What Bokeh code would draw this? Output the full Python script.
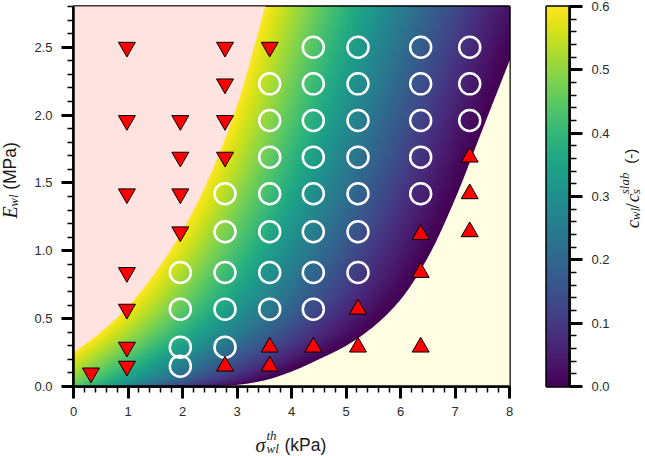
import numpy as np
from bokeh.plotting import figure
from bokeh.layouts import row, column
from bokeh.models import (LinearColorMapper, SingleIntervalTicker, FixedTicker,
                          Label, PrintfTickFormatter, Range1d)
from bokeh.palettes import Viridis256
from bokeh.embed import file_html
from bokeh.resources import INLINE

# ---------------- data ----------------
# upper boundary (edge of the pink region)
upper_sigma = [0.0, 0.5, 1.0, 1.5, 2.0, 2.5, 3.0, 3.52]
upper_E = [0.25, 0.40, 0.59, 0.84, 1.15, 1.55, 2.07, 2.80]
# lower boundary (edge of the cream region)
lower_sigma = [2.4, 3.0, 3.5, 4.0, 4.5, 5.0, 5.5, 6.0, 6.5, 7.0, 7.5, 8.0]
lower_E = [0.0, 0.012, 0.045, 0.11, 0.20, 0.30, 0.44, 0.64, 0.95, 1.38, 1.89, 2.40]

# open circles
circle_sigma = [1.96, 1.96, 1.96, 1.96,
                2.78, 2.78, 2.78, 2.78, 2.78,
                3.60, 3.60, 3.60, 3.60, 3.60, 3.60, 3.60,
                4.40, 4.40, 4.40, 4.40, 4.40, 4.40, 4.40, 4.40,
                5.22, 5.22, 5.22, 5.22, 5.22, 5.22, 5.22,
                6.37, 6.37, 6.37, 6.37, 6.37,
                7.27, 7.27, 7.27]
circle_E = [0.84, 0.57, 0.29, 0.15,
            1.42, 1.14, 0.84, 0.57, 0.29,
            2.23, 1.96, 1.69, 1.42, 1.14, 0.84, 0.57,
            2.50, 2.23, 1.96, 1.69, 1.42, 1.14, 0.84, 0.57,
            2.50, 2.23, 1.96, 1.69, 1.42, 1.14, 0.84,
            2.50, 2.23, 1.96, 1.69, 1.42,
            2.50, 2.23, 1.96]
# downward triangles
down_sigma = [0.32, 0.98, 0.98, 0.98, 0.98, 0.98, 0.98, 0.98,
              1.96, 1.96, 1.96, 1.96, 2.78, 2.78, 2.78, 2.78, 3.60]
down_E = [0.10, 2.50, 1.96, 1.42, 0.84, 0.57, 0.29, 0.15,
          1.96, 1.69, 1.42, 1.14, 2.50, 2.23, 1.96, 1.69, 2.50]
# upward triangles
up_sigma = [2.78, 3.60, 3.60, 4.40, 5.22, 5.22, 6.37, 6.37, 6.37, 7.27, 7.27, 7.27]
up_E = [0.15, 0.29, 0.15, 0.29, 0.57, 0.29, 1.12, 0.84, 0.29, 1.69, 1.42, 1.14]

x_range = (0, 8)
y_range = (0, 2.8)
c_range = (0.0, 0.6)
cbar_ticks = [0.0, 0.1, 0.2, 0.3, 0.4, 0.5, 0.6]
cbar_minor = [0.02, 0.04, 0.06, 0.08, 0.12, 0.14, 0.16, 0.18, 0.22, 0.24, 0.26, 0.28,
              0.32, 0.34, 0.36, 0.38, 0.42, 0.44, 0.46, 0.48, 0.52, 0.54, 0.56, 0.58]


def pchip(xk, yk, xq):
    xk = np.asarray(xk, float)
    yk = np.asarray(yk, float)
    xq = np.asarray(xq, float)
    h = np.diff(xk)
    d = np.diff(yk) / h
    m = np.zeros_like(yk)
    for i in range(1, len(xk) - 1):
        if d[i - 1] * d[i] > 0:
            w1 = 2 * h[i] + h[i - 1]
            w2 = h[i] + 2 * h[i - 1]
            m[i] = (w1 + w2) / (w1 / d[i - 1] + w2 / d[i])
    m[0] = d[0]
    m[-1] = d[-1]
    idx = np.clip(np.searchsorted(xk, xq) - 1, 0, len(h) - 1)
    t = (xq - xk[idx]) / h[idx]
    h00 = 2 * t**3 - 3 * t**2 + 1
    h10 = t**3 - 2 * t**2 + t
    h01 = -2 * t**3 + 3 * t**2
    h11 = t**3 - t**2
    return (h00 * yk[idx] + h10 * h[idx] * m[idx] +
            h01 * yk[idx + 1] + h11 * h[idx] * m[idx + 1])


us = np.linspace(upper_sigma[0], upper_sigma[-1], 500)
ue = pchip(upper_sigma, upper_E, us)
ls = np.linspace(lower_sigma[0], lower_sigma[-1], 500)
le = pchip(lower_sigma, lower_E, ls)

# colour field: relative position between the two boundaries at fixed E
nx, ny = 436, 380
gx = (np.arange(nx) + 0.5) * (x_range[1] - x_range[0]) / nx
gy = (np.arange(ny) + 0.5) * (y_range[1] - y_range[0]) / ny
X, Y = np.meshgrid(gx, gy)
s0 = (upper_E[1] - upper_E[0]) / (upper_sigma[1] - upper_sigma[0])
xu = np.where(Y < upper_E[0], (Y - upper_E[0]) / s0, np.interp(Y, ue, us))
s1 = (lower_E[-1] - lower_E[-2]) / (lower_sigma[-1] - lower_sigma[-2])
xl = np.where(Y > lower_E[-1], lower_sigma[-1] + (Y - lower_E[-1]) / s1,
              np.interp(Y, le, ls))
frac = np.clip((xl - X) / (xl - xu), 0.0, 1.0)
field = c_range[1] * frac ** 1.2

mapper = LinearColorMapper(palette=Viridis256, low=c_range[0], high=c_range[1])

TOP_H = 425   # height of the upper row (plot + tick labels)


def styled_axis(ax):
    ax.axis_line_width = 2.5
    ax.axis_line_color = "black"
    ax.major_tick_in = 0
    ax.major_tick_out = 12
    ax.minor_tick_in = 0
    ax.minor_tick_out = 6
    ax.major_tick_line_width = 3
    ax.minor_tick_line_width = 1.5
    ax.major_tick_line_color = "black"
    ax.minor_tick_line_color = "black"
    ax.major_label_text_font = "Liberation Sans"
    ax.major_label_text_font_size = "13px"
    ax.major_label_text_color = "#2a2a2a"


# ---------------- main plot ----------------
p = figure(width=502, height=TOP_H, output_backend="svg", toolbar_location=None,
           x_range=Range1d(*x_range), y_range=Range1d(*y_range),
           min_border_left=45, min_border_right=21, min_border_top=6,
           min_border_bottom=39)
p.grid.visible = False
p.outline_line_color = "black"
p.outline_line_width = 2.5
p.background_fill_color = "white"

p.image(image=[field], x=0, y=0, dw=8, dh=2.8, color_mapper=mapper)

pink_x = [-0.2, -0.2] + list(us) + [3.6, -0.2]
pink_y = [2.95, upper_E[0]] + list(ue) + [2.95, 2.95]
p.patch(pink_x, pink_y, fill_color="#ffe3e0", line_color=None)
cream_x = [lower_sigma[0] - 0.5, lower_sigma[0]] + list(ls) + [8.3, 8.3, lower_sigma[0] - 0.5]
cream_y = [-0.1, 0.0] + list(le) + [2.7, -0.1, -0.1]
p.patch(cream_x, cream_y, fill_color="#fffde2", line_color=None)

p.scatter(circle_sigma, circle_E, marker="circle", size=21, fill_color=None,
          line_color="white", line_width=2.5)
p.scatter(down_sigma, down_E, marker="inverted_triangle", size=17,
          fill_color="#ff0000", line_color="black", line_width=1)
p.scatter(up_sigma, up_E, marker="triangle", size=17,
          fill_color="#ff0000", line_color="black", line_width=1)

p.xaxis.ticker = SingleIntervalTicker(interval=1, num_minor_ticks=5)
p.yaxis.ticker = SingleIntervalTicker(interval=0.5, num_minor_ticks=5)
p.yaxis.formatter = PrintfTickFormatter(format="%.1f")
styled_axis(p.xaxis[0])
styled_axis(p.yaxis[0])
p.xaxis.major_label_standoff = 8
p.yaxis.major_label_standoff = 9

# ---------------- colour bar as its own small figure ----------------
cbar_levels = np.linspace(c_range[0], c_range[1], 256).reshape(256, 1)
cbf = figure(width=82, height=TOP_H, output_backend="svg", toolbar_location=None,
             x_range=Range1d(0, 1), y_range=Range1d(c_range[0] - 1e-9, c_range[1] + 1e-9),
             x_axis_type=None, y_axis_location="right",
             min_border_left=16, min_border_right=43, min_border_top=6,
             min_border_bottom=39)
cbf.grid.visible = False
cbf.outline_line_color = "black"
cbf.outline_line_width = 2.5
cbf.image(image=[cbar_levels], x=0, y=c_range[0], dw=1, dh=c_range[1] - c_range[0],
          color_mapper=mapper)
cbf.yaxis.ticker = FixedTicker(ticks=cbar_ticks, minor_ticks=cbar_minor)
cbf.yaxis.formatter = PrintfTickFormatter(format="%.1f")
styled_axis(cbf.yaxis[0])
cbf.yaxis.major_tick_out = 13
cbf.yaxis.minor_tick_out = 7
cbf.yaxis.major_label_standoff = 9


# ---------------- text panels for the axis titles ----------------
def text_panel(w, h):
    f = figure(width=w, height=h, output_backend="svg", toolbar_location=None,
               x_range=Range1d(0, w), y_range=Range1d(0, h),
               x_axis_type=None, y_axis_type=None, min_border=0)
    f.grid.visible = False
    f.outline_line_color = None
    return f


SHIFT = 5  # correction of the rendered baseline position


def piece(f, text, x, y, size, font="Liberation Serif", style="italic", angle=0.0):
    if angle:
        x -= SHIFT
    else:
        y += SHIFT
    f.add_layout(Label(x=x, y=y, text=text, text_font=font, text_font_style=style,
                       text_font_size=f"{size}px", angle=angle,
                       text_align="left", text_baseline="alphabetic",
                       text_color="#1a1a1a"))


SANS = "Liberation Sans"
R = np.pi / 2

ylab = text_panel(28, TOP_H)       # canvas x 0..28
piece(ylab, "E", 14, TOP_H - 237, 20, angle=R)
piece(ylab, "wl", 18, TOP_H - 224, 13, angle=R)
piece(ylab, "(MPa)", 14, TOP_H - 205, 17.5, font=SANS, style="normal", angle=R)

X0 = 612
cblab = text_panel(645 - X0, TOP_H)  # canvas x 612..645
CB = 637   # baseline of the rotated colour-bar title
piece(cblab, "c", CB - X0, TOP_H - 248, 19, angle=R)
piece(cblab, "wl", CB + 3 - X0, TOP_H - 239, 13, angle=R)
piece(cblab, "/", CB - X0, TOP_H - 226, 19, style="normal", angle=R)
piece(cblab, "c", CB - X0, TOP_H - 219, 19, angle=R)
piece(cblab, "s", CB + 3 - X0, TOP_H - 210, 13, angle=R)
piece(cblab, "slab", CB - 8 - X0, TOP_H - 210, 13, angle=R)
piece(cblab, "(-)", CB - 2 - X0, TOP_H - 176, 15, font=SANS, style="normal", angle=R)

BOT_H = 456 - TOP_H
xlab = text_panel(645, BOT_H)      # canvas y 425..456
piece(xlab, "σ", 255, 456 - 449, 20)
piece(xlab, "th", 266, 456 - 440, 13)
piece(xlab, "wl", 266, 456 - 453, 13)
piece(xlab, "(kPa)", 284, 456 - 449, 17.5, font=SANS, style="normal")

layout = column(row(ylab, p, cbf, cblab), xlab)
open("out.html", "w").write(file_html(layout, INLINE))
